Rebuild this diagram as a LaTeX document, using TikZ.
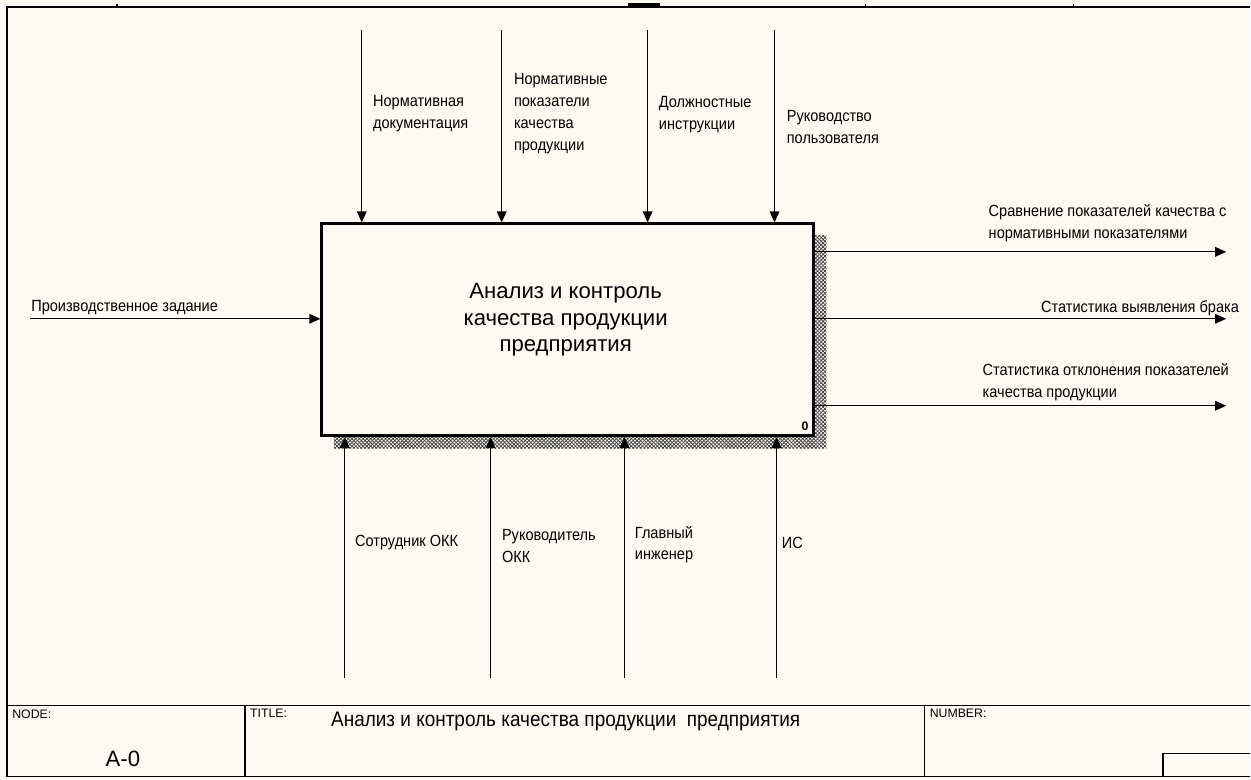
\documentclass[tikz,border=0pt]{standalone}
\usepackage{fontspec}
\setmainfont{Liberation Sans}
\newfontfamily\lblfont[FakeStretch = 0.9]{Liberation Sans}
\usetikzlibrary{arrows.meta,patterns.meta}
\definecolor{paper}{RGB}{253,250,241}

\begin{document}
\begin{tikzpicture}[x = 0.02cm, y = -0.02cm,
	flow/.style = {line width = 0.75pt, -{Triangle[length = 2.2mm, width = 1.9mm]}},
	lbl/.style = {font = \lblfont\fontsize{9.2}{12.5}\selectfont, align = left, inner sep = 0pt},
	small/.style = {font = \fontsize{7}{8}\selectfont, inner sep = 0pt},
	frame/.style = {line width = 0.9pt}]
	\fill[paper] (0, 0) rectangle (1251, 780);
	% sheet frame and title block
	\draw[frame] (7, 777) -- (7, 7) -- (1251, 7);
	\foreach \x in {117, 866, 1074}
		\draw[frame] (\x, 7) -- (\x, 4);
	\fill (628, 3) rectangle (660, 7);
	\draw[frame] (7, 777) -- (1251, 777);
	\draw[frame] (7, 706) -- (1251, 706);
	\draw[frame] (245, 706) -- (245, 777);
	\draw[frame] (925, 706) -- (925, 777);
	\draw[frame] (1164, 777) |- (1251, 754);
	\node[small, anchor = west] (nodelbl) at (12, 715) {NODE:};
	\node[font = \fontsize{12.6}{13}\selectfont, inner sep = 0pt] (nodeno) at (123, 759) {A-0};
	\node[small, anchor = west] (titlelbl) at (250, 714) {TITLE:};
	\node[font = \lblfont\fontsize{12}{13}\selectfont, inner sep = 0pt] (titletxt) at (566, 722) {Анализ и контроль качества продукции\ \ предприятия};
	\node[small, anchor = west] (numlbl) at (930, 714) {NUMBER:};
	% shadow of the function box
	\foreach \a in {45, -45}
		\fill[pattern = {Lines[angle = \a, distance = 1.5pt, line width = 0.45pt]}, pattern color = black!75]
			(815, 235) -- (827, 235) -- (827, 449) -- (334, 449) -- (334, 437) -- (815, 437) -- cycle;
	% function box
	\node[draw, line width = 1.6pt, fill = paper, minimum width = 9.84cm, minimum height = 4.24cm, inner sep = 0pt] (fn) at (568, 330) {};
	\node[font = \fontsize{12.6}{15.3}\selectfont, align = center, inner sep = 0pt] (fntext) at (566, 320) {Анализ и контроль\\качества продукции\\предприятия};
	\node[font = \bfseries\fontsize{7}{8}\selectfont, anchor = south east, inner sep = 0pt] (fnno) at ([xshift = -0.12cm, yshift = 0.12cm]fn.south east) {0};
	% controls
	\foreach \i/\x/\lx/\ly/\txt in {1/362/373/114/{Нормативная\\документация},
		2/502/514/114/{Нормативные\\показатели\\качества\\продукции},
		3/648/659/115/{Должностные\\инструкции},
		4/775/787/127/{Руководство\\пользователя}}
	{
		\coordinate (ctrl\i) at (\x, 30);
		\draw[flow] (ctrl\i) -- (ctrl\i |- fn.north);
		\node[lbl, anchor = west] (ctrllbl\i) at (\lx, \ly) {\txt};
	}
	% mechanisms
	\foreach \i/\x/\lx/\ly/\txt in {1/345/355/543/{Сотрудник ОКК},
		2/491/502/546/{Руководитель\\ОКК},
		3/625/635/545/{Главный\\инженер},
		4/777/782/543/{ИС}}
	{
		\coordinate (mech\i) at (\x, 678);
		\draw[flow] (mech\i) -- (mech\i |- fn.south);
		\node[lbl, anchor = west] (mechlbl\i) at (\lx, \ly) {\txt};
	}
	% input
	\coordinate (inp) at (30, 319);
	\draw[flow] (inp) -- (inp -| fn.west);
	\node[lbl, anchor = west] (inplbl) at (31, 308) {Производственное задание};
	% outputs
	\foreach \i/\y in {1/252, 2/319, 3/406}
	{
		\coordinate (out\i) at (1227, \y);
		\draw[flow] (out\i -| fn.east) -- (out\i);
	}
	\node[lbl, anchor = west] (outlbl1) at (989, 223.5) {Сравнение показателей качества с\\нормативными показателями};
	\node[lbl, anchor = east] (outlbl2) at (1240, 308) {Статистика выявления брака};
	\node[lbl, anchor = west] (outlbl3) at (983, 382.5) {Статистика отклонения показателей\\качества продукции};
\end{tikzpicture}
\end{document}
